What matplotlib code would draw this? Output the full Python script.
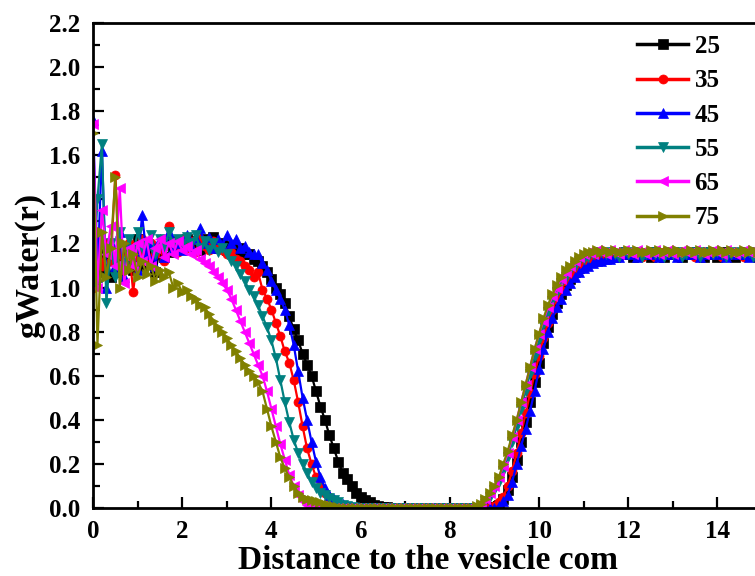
import numpy as np
import matplotlib
matplotlib.use("Agg")
import matplotlib.pyplot as plt
from matplotlib.ticker import MultipleLocator, FormatStrFormatter

# sampling grid of the distance axis (0.0 ... 15.0, step 0.1)
r_values = np.linspace(0.0, 15.0, 151)

labels = ["25", "35", "45", "55", "65", "75"]

g25 = [1.02, 1.10, 1.07, 1.15, 1.05, 1.12, 1.07, 1.18, 1.10, 1.08,
       1.22, 1.10, 1.15, 1.12, 1.07, 1.18, 1.14, 1.20, 1.16, 1.21,
       1.18, 1.22, 1.19, 1.21, 1.17, 1.22, 1.19, 1.23, 1.18, 1.20,
       1.17, 1.19, 1.16, 1.18, 1.15, 1.15, 1.13, 1.12, 1.10, 1.07,
       1.04, 1.00, 0.97, 0.93, 0.87, 0.81, 0.76, 0.70, 0.65, 0.60,
       0.53, 0.46, 0.40, 0.33, 0.27, 0.21, 0.16, 0.13, 0.10, 0.07,
       0.05, 0.035, 0.025, 0.015, 0.01, 0.005, 0.003, 0.0, 0.0, 0.0,
       0.0, 0.0, 0.0, 0.0, 0.0, 0.0, 0.0, 0.0, 0.0, 0.0,
       0.0, 0.0, 0.0, 0.0, 0.0, 0.0, 0.0, 0.0, 0.0, 0.0,
       0.005, 0.015, 0.04, 0.08, 0.14, 0.22, 0.30, 0.39, 0.48, 0.57,
       0.66, 0.75, 0.82, 0.88, 0.93, 0.97, 1.01, 1.04, 1.07, 1.09,
       1.11, 1.12, 1.13, 1.135, 1.14, 1.145, 1.15, 1.14, 1.15, 1.16,
       1.15, 1.14, 1.16, 1.15, 1.15, 1.14, 1.16, 1.15, 1.14, 1.15,
       1.16, 1.15, 1.14, 1.15, 1.16, 1.15, 1.15, 1.14, 1.16, 1.15,
       1.14, 1.15, 1.16, 1.15, 1.14, 1.15, 1.16, 1.15, 1.15, 1.14,
       1.15]

g35 = [1.00, 1.25, 1.10, 1.20, 1.12, 1.51, 1.15, 1.08, 1.20, 0.98,
       1.15, 1.22, 1.12, 1.20, 1.15, 1.18, 1.12, 1.28, 1.20, 1.16,
       1.22, 1.18, 1.21, 1.16, 1.22, 1.19, 1.17, 1.21, 1.19, 1.17,
       1.15, 1.16, 1.13, 1.12, 1.10, 1.08, 1.05, 1.07, 0.99, 0.95,
       0.90, 0.84, 0.78, 0.71, 0.66, 0.58, 0.48, 0.37, 0.27, 0.20,
       0.14, 0.10, 0.07, 0.05, 0.03, 0.02, 0.01, 0.005, 0.0, 0.0,
       0.0, 0.0, 0.0, 0.0, 0.0, 0.0, 0.0, 0.0, 0.0, 0.0,
       0.0, 0.0, 0.0, 0.0, 0.0, 0.0, 0.0, 0.0, 0.0, 0.0,
       0.0, 0.0, 0.0, 0.0, 0.0, 0.0, 0.0, 0.0, 0.0, 0.0,
       0.01, 0.025, 0.05, 0.10, 0.17, 0.25, 0.34, 0.43, 0.52, 0.61,
       0.69, 0.77, 0.84, 0.90, 0.95, 0.99, 1.03, 1.06, 1.08, 1.10,
       1.12, 1.13, 1.14, 1.14, 1.15, 1.15, 1.16, 1.15, 1.14, 1.15,
       1.16, 1.15, 1.15, 1.14, 1.16, 1.15, 1.14, 1.15, 1.16, 1.15,
       1.15, 1.14, 1.15, 1.16, 1.15, 1.14, 1.15, 1.16, 1.15, 1.15,
       1.16, 1.14, 1.15, 1.15, 1.16, 1.15, 1.14, 1.15, 1.16, 1.15,
       1.15]

g45 = [1.76, 1.05, 1.62, 1.00, 1.20, 1.10, 1.25, 1.05, 1.18, 1.12,
       1.08, 1.33, 1.15, 1.20, 1.10, 1.22, 1.14, 1.25, 1.18, 1.20,
       1.17, 1.24, 1.19, 1.22, 1.27, 1.20, 1.23, 1.18, 1.22, 1.19,
       1.24, 1.20, 1.22, 1.18, 1.19, 1.16, 1.15, 1.15, 1.11, 1.08,
       1.03, 0.99, 0.95, 0.90, 0.83, 0.74, 0.62, 0.50, 0.40, 0.30,
       0.21, 0.14, 0.09, 0.06, 0.04, 0.03, 0.02, 0.01, 0.005, 0.0,
       0.0, 0.0, 0.0, 0.0, 0.0, 0.0, 0.0, 0.0, 0.0, 0.0,
       0.0, 0.0, 0.0, 0.0, 0.0, 0.0, 0.0, 0.0, 0.0, 0.0,
       0.0, 0.0, 0.0, 0.0, 0.0, 0.0, 0.0, 0.0, 0.0, 0.0,
       0.0, 0.01, 0.03, 0.06, 0.12, 0.20, 0.28, 0.36, 0.44, 0.53,
       0.63, 0.72, 0.80, 0.86, 0.91, 0.95, 0.99, 1.02, 1.05, 1.07,
       1.09, 1.10, 1.11, 1.12, 1.12, 1.13, 1.13, 1.14, 1.14, 1.15,
       1.16, 1.15, 1.14, 1.16, 1.15, 1.15, 1.16, 1.14, 1.15, 1.16,
       1.15, 1.14, 1.16, 1.15, 1.15, 1.16, 1.14, 1.15, 1.16, 1.15,
       1.15, 1.16, 1.14, 1.15, 1.16, 1.15, 1.15, 1.14, 1.16, 1.15,
       1.16]

g55 = [1.00, 1.40, 1.65, 0.93, 1.20, 1.05, 1.25, 1.10, 1.22, 1.15,
       1.25, 1.18, 1.20, 1.24, 1.15, 1.22, 1.18, 1.25, 1.20, 1.22,
       1.19, 1.23, 1.20, 1.24, 1.18, 1.21, 1.17, 1.20, 1.16, 1.18,
       1.15, 1.12, 1.10, 1.06, 1.03, 0.99, 0.96, 0.92, 0.87, 0.82,
       0.76, 0.68, 0.58, 0.48, 0.39, 0.31, 0.25, 0.20, 0.16, 0.12,
       0.09, 0.07, 0.06, 0.045, 0.035, 0.025, 0.015, 0.01, 0.005, 0.0,
       0.0, 0.0, 0.0, 0.0, 0.0, 0.0, 0.0, 0.0, 0.0, 0.0,
       0.0, 0.0, 0.0, 0.0, 0.0, 0.0, 0.0, 0.0, 0.0, 0.0,
       0.0, 0.0, 0.0, 0.0, 0.0, 0.0, 0.0, 0.01, 0.03, 0.05,
       0.08, 0.12, 0.17, 0.23, 0.30, 0.37, 0.45, 0.53, 0.61, 0.69,
       0.76, 0.83, 0.89, 0.94, 0.98, 1.02, 1.05, 1.08, 1.10, 1.12,
       1.13, 1.14, 1.15, 1.15, 1.16, 1.15, 1.16, 1.15, 1.14, 1.16,
       1.15, 1.16, 1.15, 1.14, 1.15, 1.16, 1.15, 1.15, 1.14, 1.16,
       1.15, 1.16, 1.14, 1.15, 1.16, 1.15, 1.14, 1.16, 1.15, 1.15,
       1.16, 1.15, 1.14, 1.15, 1.16, 1.15, 1.15, 1.16, 1.14, 1.15,
       1.15]

g65 = [1.74, 1.00, 1.35, 1.15, 1.28, 1.10, 1.45, 1.02, 1.18, 1.10,
       1.20, 1.12, 1.22, 1.10, 1.18, 1.22, 1.14, 1.20, 1.15, 1.21,
       1.17, 1.19, 1.15, 1.17, 1.13, 1.11, 1.10, 1.07, 1.05, 1.02,
       0.99, 0.95, 0.90, 0.85, 0.80, 0.75, 0.70, 0.65, 0.60, 0.53,
       0.45, 0.37, 0.29, 0.22, 0.15, 0.10, 0.06, 0.03, 0.015, 0.005,
       0.0, 0.0, 0.0, 0.0, 0.0, 0.0, 0.0, 0.0, 0.0, 0.0,
       0.0, 0.0, 0.0, 0.0, 0.0, 0.0, 0.0, 0.0, 0.0, 0.0,
       0.0, 0.0, 0.0, 0.0, 0.0, 0.0, 0.0, 0.0, 0.0, 0.0,
       0.0, 0.0, 0.0, 0.0, 0.0, 0.0, 0.01, 0.02, 0.04, 0.07,
       0.10, 0.14, 0.19, 0.25, 0.32, 0.40, 0.48, 0.56, 0.64, 0.72,
       0.79, 0.85, 0.91, 0.96, 1.00, 1.04, 1.07, 1.10, 1.12, 1.14,
       1.15, 1.16, 1.15, 1.17, 1.16, 1.15, 1.17, 1.16, 1.15, 1.17,
       1.16, 1.15, 1.17, 1.16, 1.15, 1.16, 1.17, 1.15, 1.16, 1.17,
       1.15, 1.16, 1.17, 1.16, 1.15, 1.17, 1.16, 1.15, 1.16, 1.17,
       1.16, 1.15, 1.17, 1.16, 1.15, 1.16, 1.17, 1.16, 1.15, 1.16,
       1.17]

g75 = [1.70, 0.74, 1.25, 1.05, 1.18, 1.50, 1.00, 1.20, 1.08, 1.15,
       1.05, 1.12, 1.06, 1.10, 1.03, 1.08, 1.05, 1.07, 1.00, 1.02,
       0.98, 0.99, 0.96, 0.95, 0.92, 0.91, 0.88, 0.85, 0.82, 0.80,
       0.77, 0.74, 0.71, 0.68, 0.65, 0.62, 0.60, 0.57, 0.53, 0.45,
       0.37, 0.30, 0.23, 0.18, 0.14, 0.10, 0.07, 0.05, 0.04, 0.035,
       0.03, 0.025, 0.02, 0.015, 0.01, 0.005, 0.0, 0.0, 0.0, 0.0,
       0.0, 0.0, 0.0, 0.0, 0.0, 0.0, 0.0, 0.0, 0.0, 0.0,
       0.0, 0.0, 0.0, 0.0, 0.0, 0.0, 0.0, 0.0, 0.0, 0.0,
       0.0, 0.0, 0.0, 0.0, 0.0, 0.0, 0.01, 0.02, 0.04, 0.07,
       0.10, 0.14, 0.20, 0.26, 0.33, 0.40, 0.48, 0.56, 0.64, 0.72,
       0.79, 0.86, 0.92, 0.97, 1.01, 1.05, 1.08, 1.10, 1.12, 1.14,
       1.15, 1.16, 1.16, 1.17, 1.16, 1.17, 1.16, 1.17, 1.16, 1.16,
       1.17, 1.16, 1.17, 1.16, 1.16, 1.17, 1.16, 1.17, 1.16, 1.17,
       1.16, 1.17, 1.16, 1.16, 1.17, 1.16, 1.17, 1.16, 1.16, 1.17,
       1.16, 1.17, 1.16, 1.17, 1.16, 1.16, 1.17, 1.16, 1.17, 1.16,
       1.17]

series = [g25, g35, g45, g55, g65, g75]
colors = ["#000000", "#FF0000", "#0000FF", "#008080", "#FF00FF", "#808000"]
markers = ["s", "o", "^", "v", "<", ">"]

plt.rcParams["font.family"] = ["Liberation Serif", "DejaVu Serif"]
plt.rcParams["font.weight"] = "bold"

W, H = 755, 576
fig = plt.figure(figsize=(W / 100, H / 100), dpi=100)
left, right, top, bottom = 93, 762, 23, 508
ax = fig.add_axes([left / W, 1 - bottom / H, (right - left) / W, (bottom - top) / H])

for y, c, m, lab in zip(series, colors, markers, labels):
    ax.plot(r_values, y, color=c, marker=m, markersize=6.5, linewidth=1.6,
            markeredgewidth=0.5, label=lab)

ax.set_xlim(0, 15)
ax.set_ylim(0, 2.2)
ax.xaxis.set_major_locator(MultipleLocator(2))
ax.xaxis.set_minor_locator(MultipleLocator(1))
ax.yaxis.set_major_locator(MultipleLocator(0.2))
ax.yaxis.set_minor_locator(MultipleLocator(0.1))
ax.yaxis.set_major_formatter(FormatStrFormatter("%.1f"))

ax.tick_params(which="major", direction="in", length=8, width=1.6, labelsize=18, pad=9)
ax.tick_params(which="minor", direction="in", length=5, width=1.6)
ax.tick_params(top=False, right=False)
for s in ax.spines.values():
    s.set_linewidth(2.0)

ax.set_xlabel("Distance to the vesicle com", fontsize=24, fontweight="bold", labelpad=1)
ax.set_ylabel("gWater(r)", fontsize=24.5, fontweight="bold", labelpad=3)

leg = ax.legend(loc="upper left", bbox_to_anchor=(637 / W, 1 - 35 / H),
                bbox_transform=fig.transFigure, frameon=False, numpoints=1,
                fontsize=18, handlelength=2.05, handletextpad=0.25,
                labelspacing=0.45, borderpad=0, borderaxespad=0)
for line in leg.get_lines():
    line.set_linewidth(2.5)
    line.set_markersize(6.5)

fig.savefig("out.png", dpi=100)
